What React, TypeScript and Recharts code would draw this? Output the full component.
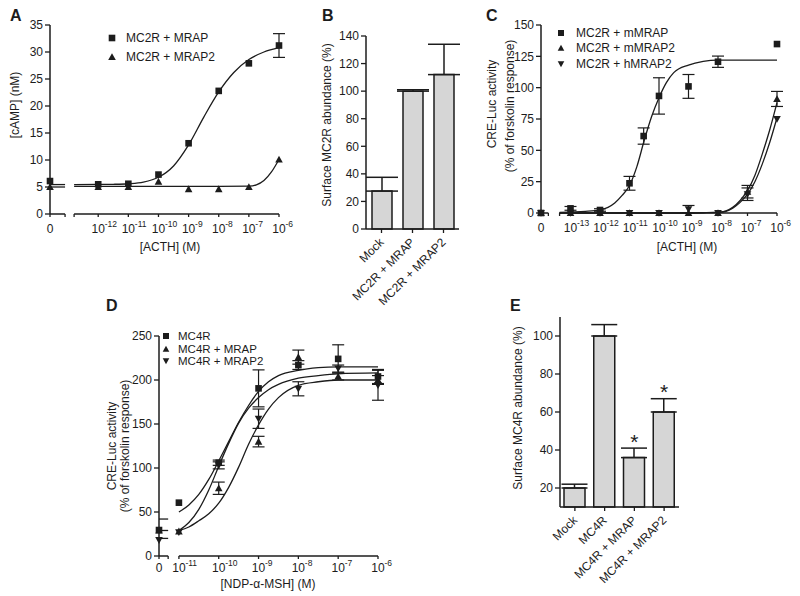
import React from 'react';
import {
  ComposedChart,
  BarChart,
  Bar,
  Line,
  Scatter,
  XAxis,
  YAxis,
  ErrorBar,
  ReferenceLine,
  ReferenceDot,
} from 'recharts';

const FONT = '"Liberation Sans", Arial, sans-serif';
const INK = '#1c1c1c';
const BAR_FILL = '#d6d6d6';

// ---- Panel A: cAMP vs ACTH (log M; "0" sits left of the axis break) ----
const A_ZERO = -13.6;
const A_DOSE = [A_ZERO, -12, -11, -10, -9, -8, -7, -6];
const A_MRAP = [6.1, 5.5, 5.6, 7.3, 13.1, 22.8, 27.9, 31.2];
const A_MRAP_ERR = [0, 0, 0, 0, 0, 0, 0, 2.2];
const A_MRAP2 = [5.0, 5.0, 5.0, 6.0, 4.6, 4.6, 5.0, 10.1];
const A_MRAP2_ERR = [0, 0, 0, 0, 0, 0, 0, 0];
const A_FIT_DOSE = [-12.8, -12, -11.5, -11, -10.5, -10, -9.5, -9, -8.5, -8, -7.5, -7, -6.5, -6];
const A_FIT_MRAP = [5.45, 5.47, 5.5, 5.6, 5.9, 6.8, 8.9, 12.8, 17.9, 22.6, 26.2, 28.6, 30.0, 30.8];
const A_FIT2_DOSE = [-12.8, -12, -11, -10, -9, -8, -7, -6.75, -6.5, -6.25, -6];
const A_FIT_MRAP2 = [5.1, 5.1, 5.1, 5.1, 5.1, 5.1, 5.15, 5.4, 6.2, 7.8, 10.1];
const A_STUB_DOSE = [A_ZERO, -13.1];
const A_STUB_MRAP = [5.45, 5.45];
const A_STUB_MRAP2 = [5.0, 5.0];
const A_TICKS = [A_ZERO, -13.1, -12.8, -12, -11, -10, -9, -8, -7, -6];
const A_TICK_LABELS = ['0', '', '', '-12', '-11', '-10', '-9', '-8', '-7', '-6'];
const A_Y_TICKS = [0, 5, 10, 15, 20, 25, 30, 35];

// ---- Panel B: surface MC2R ----
const B_GROUPS = ['Mock', 'MC2R + MRAP', 'MC2R + MRAP2'];
const B_VALUES = [27.5, 100, 112];
const B_ERR = [10, 1, 22];
const B_Y_TICKS = [0, 20, 40, 60, 80, 100, 120, 140];

// ---- Panel C: CRE-Luc vs ACTH ----
const C_ZERO = -14;
const C_MMRAP_DOSE = [C_ZERO, -13, -12, -11, -10.52, -10, -9, -8, -6];
const C_MMRAP = [0, 3.7, 2.4, 23.7, 61.4, 93.4, 101, 120.7, 134.8];
const C_MMRAP_ERR = [0, 1.5, 1, 5.5, 6.5, 14.5, 9.5, 4.5, 0];
const C_MRAP2_DOSE = [C_ZERO, -13, -12, -11, -10, -9, -8, -7, -6];
const C_MMRAP2 = [0, 0, 0, 0, 0, 0, 0, 17, 91];
const C_MMRAP2_ERR = [0, 0, 0, 0, 0, 0, 0, 5, 6];
const C_HMRAP2 = [0, 0, 0, 0, 0, 3, 0, 15, 75];
const C_HMRAP2_ERR = [0, 0, 0, 0, 0, 3, 0, 5, 0];
const C_FIT_DOSE = [-13.37, -13, -12.5, -12, -11.5, -11.25, -11, -10.75, -10.5, -10.25, -10, -9.75, -9.5, -9, -8.5, -8, -7, -6];
const C_FIT_MMRAP = [0.5, 0.8, 1.3, 2.5, 8, 14, 22, 37, 58, 77, 92, 104, 112, 118, 121, 122, 122, 122];
const C_FIT2_DOSE = [-13.37, -12, -11, -10, -9, -8.5, -8, -7.75, -7.5, -7.25, -7, -6.75, -6.5, -6.25, -6];
const C_FIT_MMRAP2 = [0, 0, 0, 0, 0, 0.2, 0.6, 1.5, 4.5, 10, 18, 30, 47, 66, 88];
const C_FIT_HMRAP2 = [0, 0, 0, 0, 0, 0.2, 0.5, 1.2, 3.8, 8.5, 15, 25, 39, 56, 76];
const C_TICKS = [C_ZERO, -13.75, -13.37, -13, -12, -11, -10, -9, -8, -7, -6];
const C_TICK_LABELS = ['0', '', '', '-13', '-12', '-11', '-10', '-9', '-8', '-7', '-6'];
const C_Y_TICKS = [0, 25, 50, 75, 100, 125, 150];

// ---- Panel D: CRE-Luc vs NDP-α-MSH ----
const D_ZERO = -11.5;
const D_DOSE = [D_ZERO, -11, -10, -9, -8, -7, -6];
const D_MC4R = [29.5, 60.6, 106, 190.5, 217, 224, 204];
const D_MC4R_ERR = [0, 0, 3, 21, 5, 16, 8];
const D_MRAP = [29, 28, 77, 130, 226, 204, 200];
const D_MRAP_ERR = [0, 0, 7, 6, 8, 4, 5];
const D_MRAP2 = [18, 27, 103, 156, 190, 213, 194];
const D_MRAP2_ERR = [0, 0, 4, 11, 8, 4, 17];
const D_FIT_DOSE = [-11, -10.75, -10.5, -10.25, -10, -9.75, -9.5, -9.25, -9, -8.75, -8.5, -8, -7.5, -7, -6];
const D_FIT_MC4R = [50, 58, 70, 87, 108, 130, 152, 171, 187, 198, 205, 211, 214, 215, 215];
const D_FIT_MRAP2 = [29, 38, 53, 75, 102, 128, 151, 168, 180, 189, 195, 202, 205, 207, 208];
const D_FIT_MRAP = [29, 33, 40, 48, 60, 78, 101, 127, 149, 167, 180, 194, 198, 200, 200];
const D_STUB_DOSE = [D_ZERO, -11.27];
const D_STUB_MC4R = [42, 42];
const D_STUB_MRAP = [29, 29];
const D_STUB_MRAP2 = [20, 20];
const D_TICKS = [D_ZERO, -11.27, -11, -10, -9, -8, -7, -6];
const D_TICK_LABELS = ['0', '', '-11', '-10', '-9', '-8', '-7', '-6'];
const D_Y_TICKS = [0, 50, 100, 150, 200, 250];

// ---- Panel E: surface MC4R ----
const E_GROUPS = ['Mock', 'MC4R', 'MC4R + MRAP', 'MC4R + MRAP2'];
const E_VALUES = [20, 100, 36, 60];
const E_ERR = [2, 6, 5, 7];
const E_SIG = ['', '', '*', '*'];
const E_Y_TICKS = [20, 40, 60, 80, 100];

const pts = (xs: number[], ys: number[], es?: number[]) =>
  xs.map((x, i) => ({ x, y: ys[i], e: es ? es[i] : 0 }));

const bars = (names: string[], vals: number[], errs: number[]) =>
  names.map((name, i) => ({ name, v: vals[i], e: [0, errs[i]] }));

const Square = ({ cx, cy, s = 3.3 }: any) => (
  <rect x={cx - s} y={cy - s} width={s * 2} height={s * 2} fill={INK} />
);
const TriUp = ({ cx, cy, s = 3.8 }: any) => (
  <path d={`M${cx},${cy - s} L${cx + s},${cy + s * 0.8} L${cx - s},${cy + s * 0.8}Z`} fill={INK} />
);
const TriDown = ({ cx, cy, s = 3.8 }: any) => (
  <path d={`M${cx},${cy + s} L${cx + s},${cy - s * 0.8} L${cx - s},${cy - s * 0.8}Z`} fill={INK} />
);

function DoseTick({ x, y, payload, ticks, labels, dy }: any) {
  const i = ticks.findIndex((t: number) => Math.abs(t - payload.value) < 1e-6);
  const lab = i >= 0 ? labels[i] : '';
  if (!lab) return null;
  const base = y + dy;
  if (lab === '0') {
    return (
      <text x={x} y={base} textAnchor="middle" fontSize={12} fill={INK} fontFamily={FONT}>
        0
      </text>
    );
  }
  return (
    <g fontFamily={FONT} fill={INK}>
      <text x={x} y={base} textAnchor="middle" fontSize={12}>
        10
      </text>
      <text x={x + 6.5} y={base - 6} fontSize={8.5}>
        {lab}
      </text>
    </g>
  );
}

const AngledTick = ({ x, y, payload }: any) => (
  <text
    x={x + 3}
    y={y + 8}
    transform={`rotate(-45 ${x + 3} ${y + 8})`}
    textAnchor="end"
    fontSize={12}
    fill={INK}
    fontFamily={FONT}
  >
    {payload.value}
  </text>
);

const Asterisk = ({ viewBox, value }: any) => (
  <text x={viewBox.x} y={viewBox.y + 12} textAnchor="middle" fontSize={21} fill={INK} fontFamily={FONT}>
    {value}
  </text>
);

const axisLine = { stroke: INK, strokeWidth: 1.5 };
const tickLine = { stroke: INK, strokeWidth: 1.3 };
const yTick = { fontSize: 12, fill: INK, fontFamily: FONT };

const fitLine = (key: string, data: any[]) => (
  <Line
    key={key}
    data={data}
    dataKey="y"
    type="monotone"
    stroke={INK}
    strokeWidth={1.3}
    dot={false}
    isAnimationActive={false}
  />
);

// markers for every point, plus a hidden-marker scatter carrying the visible error bars
const points = (key: string, data: any[], Shape: any) => [
  <Scatter
    key={key + '-err'}
    data={data.filter((d) => d.e > 0)}
    dataKey="y"
    shape={() => <g />}
    isAnimationActive={false}
  >
    <ErrorBar dataKey="e" direction="y" width={6} stroke={INK} strokeWidth={1.2} />
  </Scatter>,
  <Scatter
    key={key}
    data={data}
    dataKey="y"
    shape={(p: any) => <Shape cx={p.cx} cy={p.cy} />}
    isAnimationActive={false}
  />,
];

const seg = (key: string, x1: number, x2: number, y: number) => (
  <ReferenceLine key={key} segment={[{ x: x1, y }, { x: x2, y }]} stroke={INK} strokeWidth={1.5} />
);

function PanelA() {
  return (
    <ComposedChart width={295} height={250} margin={{ top: 25, right: 16, bottom: 6, left: 0 }}>
      <XAxis
        type="number"
        dataKey="x"
        domain={[A_ZERO, -6]}
        ticks={A_TICKS}
        interval={0}
        axisLine={false}
        tickLine={tickLine}
        tickSize={3}
        height={30}
        tick={<DoseTick ticks={A_TICKS} labels={A_TICK_LABELS} dy={14} />}
      />
      <YAxis type="number" dataKey="y" domain={[0, 35]} ticks={A_Y_TICKS} width={50} axisLine={axisLine} tickLine={tickLine} tickSize={5} tick={yTick} />
      {seg('s1', A_ZERO, -13.1, 0)}
      {seg('s2', -12.8, -6, 0)}
      {fitLine('stub1', pts(A_STUB_DOSE, A_STUB_MRAP))}
      {fitLine('stub2', pts(A_STUB_DOSE, A_STUB_MRAP2))}
      {fitLine('f1', pts(A_FIT_DOSE, A_FIT_MRAP))}
      {fitLine('f2', pts(A_FIT2_DOSE, A_FIT_MRAP2))}
      {points('p2', pts(A_DOSE, A_MRAP2, A_MRAP2_ERR), TriUp)}
      {points('p1', pts(A_DOSE, A_MRAP, A_MRAP_ERR), Square)}
    </ComposedChart>
  );
}

function PanelB() {
  return (
    <BarChart width={170} height={330} data={bars(B_GROUPS, B_VALUES, B_ERR)} margin={{ top: 36, right: 11, bottom: 41, left: 0 }}>
      <XAxis dataKey="name" interval={0} axisLine={axisLine} tickLine={tickLine} tickSize={4} height={60} tick={<AngledTick />} />
      <YAxis type="number" domain={[0, 140]} ticks={B_Y_TICKS} width={66} axisLine={axisLine} tickLine={tickLine} tickSize={5} tick={yTick} />
      <Bar dataKey="v" fill={BAR_FILL} stroke={INK} strokeWidth={1.5} barSize={20} isAnimationActive={false}>
        <ErrorBar dataKey="e" direction="y" width={16} stroke={INK} strokeWidth={1.5} />
      </Bar>
    </BarChart>
  );
}

function PanelC() {
  return (
    <ComposedChart width={320} height={270} margin={{ top: 25, right: 23, bottom: 27, left: 0 }}>
      <XAxis
        type="number"
        dataKey="x"
        domain={[C_ZERO, -6]}
        ticks={C_TICKS}
        interval={0}
        axisLine={false}
        tickLine={tickLine}
        tickSize={3}
        height={30}
        tick={<DoseTick ticks={C_TICKS} labels={C_TICK_LABELS} dy={14} />}
      />
      <YAxis type="number" dataKey="y" domain={[0, 150]} ticks={C_Y_TICKS} width={61} axisLine={axisLine} tickLine={tickLine} tickSize={5} tick={yTick} />
      {seg('s1', C_ZERO, -13.75, 0)}
      {seg('s2', -13.37, -6, 0)}
      {fitLine('f1', pts(C_FIT_DOSE, C_FIT_MMRAP))}
      {fitLine('f2', pts(C_FIT2_DOSE, C_FIT_MMRAP2))}
      {fitLine('f3', pts(C_FIT2_DOSE, C_FIT_HMRAP2))}
      {points('p2', pts(C_MRAP2_DOSE, C_MMRAP2, C_MMRAP2_ERR), TriUp)}
      {points('p3', pts(C_MRAP2_DOSE, C_HMRAP2, C_HMRAP2_ERR), TriDown)}
      {points('p1', pts(C_MMRAP_DOSE, C_MMRAP, C_MMRAP_ERR), Square)}
    </ComposedChart>
  );
}

function PanelD() {
  return (
    <ComposedChart width={300} height={296} margin={{ top: 36, right: 22, bottom: 10, left: 0 }}>
      <XAxis
        type="number"
        dataKey="x"
        domain={[D_ZERO, -6]}
        ticks={D_TICKS}
        interval={0}
        axisLine={false}
        tickLine={tickLine}
        tickSize={3}
        height={30}
        tick={<DoseTick ticks={D_TICKS} labels={D_TICK_LABELS} dy={11} />}
      />
      <YAxis type="number" dataKey="y" domain={[0, 250]} ticks={D_Y_TICKS} width={59} axisLine={axisLine} tickLine={tickLine} tickSize={5} tick={yTick} />
      {seg('s1', D_ZERO, -11.27, 0)}
      {seg('s2', -11, -6, 0)}
      {fitLine('st1', pts(D_STUB_DOSE, D_STUB_MC4R))}
      {fitLine('st2', pts(D_STUB_DOSE, D_STUB_MRAP))}
      {fitLine('st3', pts(D_STUB_DOSE, D_STUB_MRAP2))}
      {fitLine('f1', pts(D_FIT_DOSE, D_FIT_MC4R))}
      {fitLine('f2', pts(D_FIT_DOSE, D_FIT_MRAP))}
      {fitLine('f3', pts(D_FIT_DOSE, D_FIT_MRAP2))}
      {points('p2', pts(D_DOSE, D_MRAP, D_MRAP_ERR), TriUp)}
      {points('p3', pts(D_DOSE, D_MRAP2, D_MRAP2_ERR), TriDown)}
      {points('p1', pts(D_DOSE, D_MC4R, D_MC4R_ERR), Square)}
    </ComposedChart>
  );
}

function PanelE() {
  const data = bars(E_GROUPS, E_VALUES, E_ERR);
  return (
    <BarChart width={220} height={296} data={data} margin={{ top: 17, right: 21, bottom: 29, left: 0 }}>
      <XAxis dataKey="name" interval={0} axisLine={axisLine} tickLine={tickLine} tickSize={4} height={60} tick={<AngledTick />} />
      <YAxis type="number" domain={[10, 110]} ticks={E_Y_TICKS} width={80} axisLine={axisLine} tickLine={tickLine} tickSize={5} tick={yTick} />
      <Bar dataKey="v" fill={BAR_FILL} stroke={INK} strokeWidth={1.5} barSize={21} isAnimationActive={false}>
        <ErrorBar dataKey="e" direction="y" width={13} stroke={INK} strokeWidth={1.5} />
      </Bar>
      {E_GROUPS.map((g, i) =>
        E_SIG[i] ? (
          <ReferenceDot
            key={g}
            x={g}
            y={E_VALUES[i] + E_ERR[i] + 6}
            r={0}
            label={<Asterisk value={E_SIG[i]} />}
          />
        ) : null
      )}
    </BarChart>
  );
}

const txt = { fontFamily: FONT, fill: INK, fontSize: 12 } as const;
const legendD = { fontFamily: FONT, fill: INK, fontSize: 11.5 } as const;
const letter = { fontFamily: FONT, fill: INK, fontSize: 16, fontWeight: 700 } as const;

function Overlay() {
  return (
    <svg width={800} height={596} style={{ position: 'absolute', left: 0, top: 0, pointerEvents: 'none' }}>
      <text x={10} y={21} {...letter}>A</text>
      <text x={322} y={21} {...letter}>B</text>
      <text x={486} y={21} {...letter}>C</text>
      <text x={106} y={311} {...letter}>D</text>
      <text x={510} y={311} {...letter}>E</text>

      {/* A */}
      <text transform="translate(19,105) rotate(-90)" textAnchor="middle" {...txt}>[cAMP] (nM)</text>
      <text x={170} y={251} textAnchor="middle" {...txt}>[ACTH] (M)</text>
      <Square cx={112} cy={38} />
      <TriUp cx={112} cy={57} />
      <text x={126} y={42} {...txt}>MC2R + MRAP</text>
      <text x={126} y={61} {...txt}>MC2R + MRAP2</text>

      {/* B */}
      <text transform="translate(331,125) rotate(-90)" textAnchor="middle" {...txt}>Surface MC2R abundance (%)</text>

      {/* C */}
      <text transform="translate(496,104) rotate(-90)" textAnchor="middle" {...txt}>CRE-Luc activity</text>
      <text transform="translate(514,106) rotate(-90)" textAnchor="middle" {...txt}>(% of forskolin response)</text>
      <text x={687} y={251} textAnchor="middle" {...txt}>[ACTH] (M)</text>
      <Square cx={561} cy={33} s={3} />
      <TriUp cx={561} cy={48} s={3.3} />
      <TriDown cx={561} cy={64} s={3.3} />
      <text x={576} y={37} {...txt}>MC2R + mMRAP</text>
      <text x={576} y={52} {...txt}>MC2R + mMRAP2</text>
      <text x={576} y={68} {...txt}>MC2R + hMRAP2</text>

      {/* D */}
      <text transform="translate(116,446) rotate(-90)" textAnchor="middle" {...txt}>CRE-Luc activity</text>
      <text transform="translate(129,446) rotate(-90)" textAnchor="middle" {...txt}>(% of forskolin response)</text>
      <text x={268} y={588} textAnchor="middle" {...txt}>[NDP-α-MSH] (M)</text>
      <Square cx={166} cy={336} s={3} />
      <TriUp cx={166} cy={349} s={3.3} />
      <TriDown cx={166} cy={361} s={3.3} />
      <text x={178} y={340} {...legendD}>MC4R</text>
      <text x={178} y={353} {...legendD}>MC4R + MRAP</text>
      <text x={178} y={365} {...legendD}>MC4R + MRAP2</text>

      {/* E */}
      <text transform="translate(522,408) rotate(-90)" textAnchor="middle" {...txt}>Surface MC4R abundance  (%)</text>
    </svg>
  );
}

export default function App() {
  return (
    <div style={{ position: 'absolute', left: 0, top: 0, width: 800, height: 596, background: '#fff' }}>
      <div style={{ position: 'absolute', left: 0, top: 0 }}>
        <PanelA />
      </div>
      <div style={{ position: 'absolute', left: 300, top: 0 }}>
        <PanelB />
      </div>
      <div style={{ position: 'absolute', left: 480, top: 0 }}>
        <PanelC />
      </div>
      <div style={{ position: 'absolute', left: 100, top: 300 }}>
        <PanelD />
      </div>
      <div style={{ position: 'absolute', left: 480, top: 300 }}>
        <PanelE />
      </div>
      <Overlay />
    </div>
  );
}
